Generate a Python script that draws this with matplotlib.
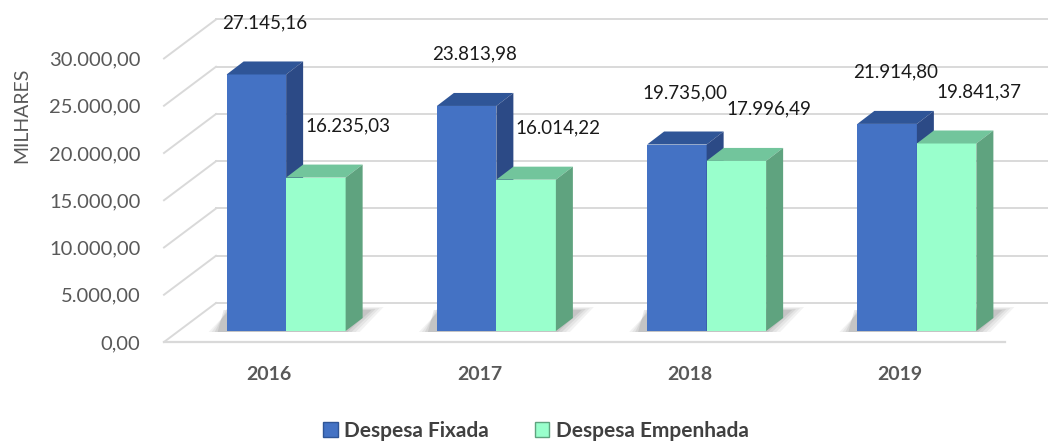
import matplotlib
matplotlib.use('Agg')
import matplotlib.pyplot as plt
import matplotlib.transforms as mtransforms
from matplotlib.patches import Polygon, Patch

# ---- data ----
years = ['2016', '2017', '2018', '2019']
despesa_fixada = [27145.16, 23813.98, 19735.00, 21914.80]
despesa_empenhada = [16235.03, 16014.22, 17996.49, 19841.37]
series_names = ['Despesa Fixada', 'Despesa Empenhada']
y_ticks = [0, 5000, 10000, 15000, 20000, 25000, 30000]
y_label = 'MILHARES'


def br(v):
    s = f"{v:,.2f}"
    return s.replace(',', 'X').replace('.', ',').replace('X', '.')


FONT = ['Lato', 'DejaVu Sans']
plt.rcParams['font.family'] = FONT

W, H, DPI = 1048, 441, 100
fig = plt.figure(figsize=(W / DPI, H / DPI), dpi=DPI)
fig.patch.set_facecolor('white')

# front plane of the 3D box
ax = fig.add_axes([164 / W, (H - 342) / H, 841 / W, 283.5 / H])
ax.set_xlim(-0.5, 3.5)
ax.set_ylim(0, 30000)
ax.set_facecolor('none')
for s in ax.spines.values():
    s.set_visible(False)

ux = 4.0 / 841          # data units per pixel (x)
uy = 30000 / 283.5      # data units per pixel (y)

# wall depth
wdx, wdy = 52 * ux, 39 * uy
grid_c = '#D9D9D9'
for v in y_ticks:
    ax.plot([-0.5, -0.5 + wdx], [v, v + wdy], color=grid_c, lw=1.4,
            clip_on=False, zorder=0)
    ax.plot([-0.5 + wdx, 3.5 + wdx], [v + wdy, v + wdy], color=grid_c,
            lw=1.4, clip_on=False, zorder=0)
ax.plot([-0.5, 3.5], [0, 0], color=grid_c, lw=1.6, clip_on=False, zorder=0)

# bar frame: shifted backwards into the box
bar_trans = ax.transData + mtransforms.ScaledTranslation(17 / DPI, 11 / DPI,
                                                          fig.dpi_scale_trans)
w = 59.5 * ux
bdx, bdy = 17 * ux, 13 * uy

colors = {
    0: ('#4472C4', '#2F5597', '#2C4A86'),
    1: ('#99FFCC', '#72C59C', '#5FA37F'),
}

xs = list(range(len(years)))

# soft shadows on the floor
for i in xs:
    xl = i - w
    xr = i + w
    for k, a in enumerate([0.07, 0.08, 0.10, 0.12]):
        g = (3 - k) * 4
        pts = [(xl - (18 - k * 3) * ux, -1 * uy),
               (xr + (2 + g) * ux, -1 * uy),
               (xr + (26 + g) * ux, (21 + g * 0.25) * uy),
               (xl + (6 - k * 3) * ux, (21 + g * 0.25) * uy)]
        ax.add_patch(Polygon(pts, closed=True, facecolor='#505050',
                             edgecolor='none', alpha=a, transform=bar_trans,
                             clip_on=False, zorder=1))

for i in xs:
    for si, vals in enumerate([despesa_fixada, despesa_empenhada]):
        h = vals[i]
        front, top, side = colors[si]
        xc = i - w / 2 if si == 0 else i + w / 2
        x0, x1 = xc - w / 2, xc + w / 2
        z = 2 + si * 3
        ax.bar([xc], [h], width=w, color=front, edgecolor='none',
               transform=bar_trans, clip_on=False, zorder=z)
        ax.add_patch(Polygon([(x0, h), (x1, h), (x1 + bdx, h + bdy),
                              (x0 + bdx, h + bdy)], closed=True,
                             facecolor=top, edgecolor='none',
                             transform=bar_trans, clip_on=False, zorder=z))
        ax.add_patch(Polygon([(x1, 0), (x1 + bdx, bdy), (x1 + bdx, h + bdy),
                              (x1, h)], closed=True, facecolor=side,
                             edgecolor='none', transform=bar_trans,
                             clip_on=False, zorder=z))
        off = (8, 52) if si == 0 else (32, 52)
        ax.annotate(br(h), xy=(xc, h), xycoords=bar_trans, xytext=off,
                    textcoords='offset pixels', ha='center', va='center',
                    fontsize=13.5, color='#1A1A1A', zorder=10,
                    annotation_clip=False)

ax.set_yticks(y_ticks, [br(v) for v in y_ticks])
ax.set_xticks(xs, years)
ax.tick_params(axis='y', length=0, pad=17, labelsize=14.5, labelcolor='#595959')
ax.tick_params(axis='x', length=0, pad=17, labelsize=14, labelcolor='#595959')
for t in ax.get_xticklabels():
    t.set_fontweight('bold')

ax.set_ylabel(y_label, fontsize=14, color='#595959')
ax.yaxis.set_label_coords(-0.159, 0.80)

handles = [Patch(facecolor=colors[0][0], edgecolor=colors[0][1]),
           Patch(facecolor=colors[1][0], edgecolor=colors[1][2])]
leg = fig.legend(handles, series_names, loc='center',
                 bbox_to_anchor=(536 / W, 10 / H), ncol=2, frameon=False,
                 prop={'size': 15, 'weight': 'bold'}, handlelength=0.7,
                 handleheight=0.7, handletextpad=0.3, columnspacing=2.2)
for t in leg.get_texts():
    t.set_color('#404040')

fig.savefig('out.png', dpi=DPI)
